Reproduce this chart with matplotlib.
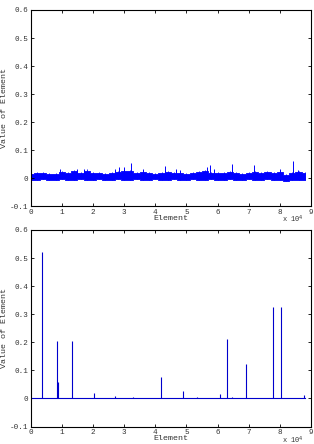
import numpy as np
import matplotlib
matplotlib.use("Agg")
import matplotlib.pyplot as plt

# top panel: noisy band (envelope read every 2000 elements) plus visible spikes
band_x = list(range(0, 88001, 2000))
band_hi = [0.015, 0.020, 0.018, 0.016, 0.015, 0.022, 0.018, 0.025, 0.020, 0.028,
           0.020, 0.018, 0.016, 0.018, 0.022, 0.028, 0.025, 0.020, 0.022, 0.018,
           0.016, 0.020, 0.022, 0.020, 0.018, 0.016, 0.020, 0.022, 0.025, 0.020,
           0.018, 0.020, 0.022, 0.018, 0.016, 0.020, 0.022, 0.020, 0.022, 0.020,
           0.022, 0.012, 0.020, 0.022, 0.018]
band_lo = [-0.004, -0.004, -0.003, -0.004, -0.004, -0.003, -0.004, -0.004, -0.003, -0.004,
           -0.004, -0.003, -0.004, -0.004, -0.003, -0.004, -0.004, -0.003, -0.004, -0.004,
           -0.003, -0.004, -0.004, -0.003, -0.004, -0.004, -0.003, -0.004, -0.004, -0.003,
           -0.004, -0.004, -0.003, -0.004, -0.004, -0.003, -0.004, -0.004, -0.003, -0.004,
           -0.004, -0.008, -0.005, -0.004, -0.004]
top_spike_pos = [9400, 14900, 17200, 27100, 28400, 30000, 32100, 36100, 43100, 46600,
                 47900, 56500, 57600, 59000, 64500, 71700, 80100, 84100, 85800]
top_spike_val = [0.035, 0.035, 0.035, 0.035, 0.040, 0.040, 0.055, 0.035, 0.045, 0.035,
                 0.030, 0.040, 0.048, 0.035, 0.052, 0.048, 0.035, 0.063, 0.030]

# bottom panel: sparse spikes on a zero baseline
bot_n = 88000
bot_spike_pos = [3530, 8350, 8670, 13360, 20200, 27100, 32700, 41700, 47200, 48800,
                 53500, 60900, 63000, 64500, 69200, 77800, 80300, 87700]
bot_spike_val = [0.52, 0.205, 0.057, 0.205, 0.02, 0.007, 0.004, 0.075, 0.003, 0.025,
                 0.004, 0.016, 0.21, 0.005, 0.122, 0.325, 0.325, 0.012]

yticks = [-0.1, 0, 0.1, 0.2, 0.3, 0.4, 0.5, 0.6]
ytick_labels = ["-0.1", "0", "0.1", "0.2", "0.3", "0.4", "0.5", "0.6"]
xticks = list(range(0, 10))

blue = "#0000ff"
mono = "Liberation Mono"
grey = "#333333"


def style_axes(ax):
    ax.set_xlim(0, 90000)
    ax.set_ylim(-0.1, 0.6)
    ax.set_yticks(yticks)
    ax.set_yticklabels(ytick_labels, fontfamily=mono, fontsize=5.5, color=grey)
    ax.set_xticks([t * 1e4 for t in xticks])
    ax.set_xticklabels([str(t) for t in xticks], fontfamily=mono, fontsize=5.5, color=grey)
    ax.tick_params(direction="in", length=2.5, width=0.6, top=True, right=True, pad=2)
    for s in ax.spines.values():
        s.set_linewidth(0.8)
    ax.set_xlabel("Element", fontfamily=mono, fontsize=6, labelpad=-1, color=grey)
    ax.set_ylabel("Value of Element", fontfamily=mono, fontsize=6, color=grey)
    ax.yaxis.set_label_coords(-0.08, 0.5)
    ax.text(0.975, -0.068, r"x 10$^{4}$", transform=ax.transAxes, ha="right", va="center",
            fontfamily=mono, fontsize=5, color=grey)


fig = plt.figure(figsize=(3.14, 4.44), dpi=100)

ax1 = fig.add_axes([0.0978, 0.535, 0.8927, 0.4426])
ax1.fill_between(band_x, band_lo, band_hi, step="mid", color=blue, linewidth=0.6, edgecolor=blue)
ax1.vlines(band_x, band_lo, [h + 0.004 for h in band_hi], color=blue, linewidth=0.6)
ax1.vlines(top_spike_pos, 0, top_spike_val, color=blue, linewidth=0.7)
style_axes(ax1)

ax2 = fig.add_axes([0.0978, 0.0394, 0.8927, 0.4426])
ax2.plot([0, bot_n], [0, 0], color="#0000cc", linewidth=0.8)
ax2.vlines(bot_spike_pos, 0, bot_spike_val, color="#0000cc", linewidth=0.8)
style_axes(ax2)

fig.savefig("out.png", dpi=100)
